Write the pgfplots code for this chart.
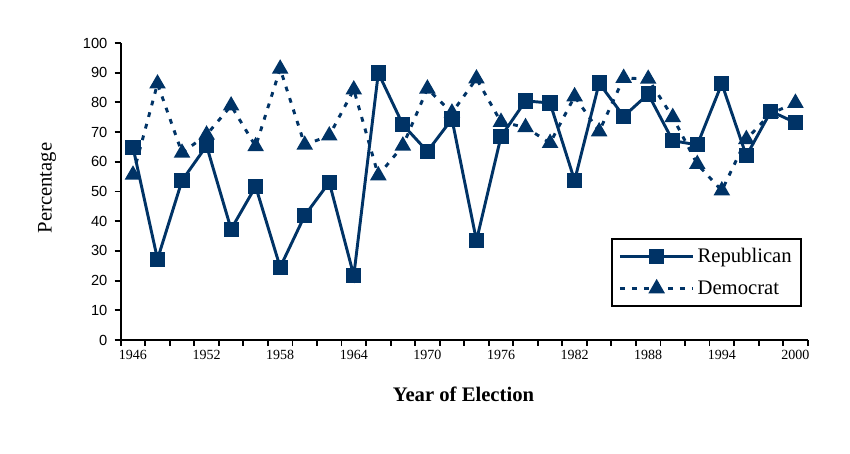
\documentclass[border=0pt]{standalone}
\usepackage{fontspec}
\setmainfont{Liberation Serif}
\newfontfamily\arialfont{Liberation Sans}
\usepackage{pgfplots}
\pgfplotsset{compat=1.18}
\definecolor{navy}{RGB}{0,51,102}

% share of votes, by election year (idx 0 = 1946, step 2 years)
\pgfplotstableread{
idx year rep  dem
0  1946 64.9 55.6
1  1948 27.2 86.3
2  1950 53.7 63.0
3  1952 65.4 69.1
4  1954 37.3 78.9
5  1956 51.7 65.2
6  1958 24.5 91.3
7  1960 41.9 65.7
8  1962 53.1 68.8
9  1964 21.7 84.3
10 1966 89.9 55.4
11 1968 72.5 65.4
12 1970 63.5 84.6
13 1972 74.4 76.5
14 1974 33.5 88.0
15 1976 68.5 73.4
16 1978 80.5 71.6
17 1980 79.8 66.3
18 1982 53.7 82.0
19 1984 86.5 70.2
20 1986 75.3 88.2
21 1988 82.8 87.9
22 1990 67.1 75.0
23 1992 65.7 59.2
24 1994 86.3 50.3
25 1996 62.0 67.6
26 1998 77.0 76.3
27 2000 73.2 79.8
}\votes

\begin{document}
\begin{tikzpicture}
\begin{axis}[
    scale only axis,
    width=515.25pt, height=222.75pt,
    xmin=-0.5, xmax=27.5,
    ymin=0, ymax=100,
    axis x line*=bottom,
    axis y line*=left,
    axis line style={line width=1.8pt, black, -},
    tick align=outside,
    tick style={black, line width=1.4pt},
    major tick length=4.5pt,
    xtick={-0.5,0.5,...,27.5},
    xticklabels={},
    extra x ticks={0,3,...,27},
    extra x tick labels={1946,1952,1958,1964,1970,1976,1982,1988,1994,2000},
    extra x tick style={major tick length=0pt,
        xticklabel style={font=\fontsize{10.5}{12}\selectfont,
            anchor=base, yshift=-15pt}},
    ytick={0,10,...,100},
    /pgf/number format/assume math mode=true,
    yticklabel style={font=\arialfont\fontsize{11}{12}\selectfont, xshift=-2pt},
    legend style={at={(rel axis cs:0.9917,0.343)}, anchor=north east,
        draw=black, line width=1.4pt, inner xsep=5pt, inner ysep=5pt,
        font=\fontsize{15.5}{18}\selectfont, row sep=8pt},
    legend cell align=left,
    legend image code/.code={
        \draw[mark repeat=2, mark phase=2]
        plot coordinates {(0cm,0cm) (0.97cm,0cm) (1.94cm,0cm)};},
    clip=false,
]
\addplot[navy, line width=2.2pt, mark=square*, mark size=4.6pt,
    mark options={solid}] table[x=idx, y=rep] {\votes};
\addlegendentry{Republican}
\addplot[navy, line width=2.2pt, dash pattern=on 3.6pt off 5.4pt,
    mark=triangle*, mark size=5pt, mark options={solid}]
    table[x=idx, y=dem] {\votes};
\addlegendentry{Democrat}

\node[anchor=base, font=\fontsize{15.5}{18}\selectfont\bfseries]
    at (rel axis cs:0.499,-0.2077) {Year of Election};
\node[rotate=90, anchor=center, font=\fontsize{15.5}{18}\selectfont]
    at (rel axis cs:-0.1073,0.512) {Percentage};

% page frame, same proportions as the reference
\path (rel axis cs:-0.1757,-0.3838) rectangle (rel axis cs:1.0616,1.1448);
\end{axis}
\end{tikzpicture}
\end{document}
